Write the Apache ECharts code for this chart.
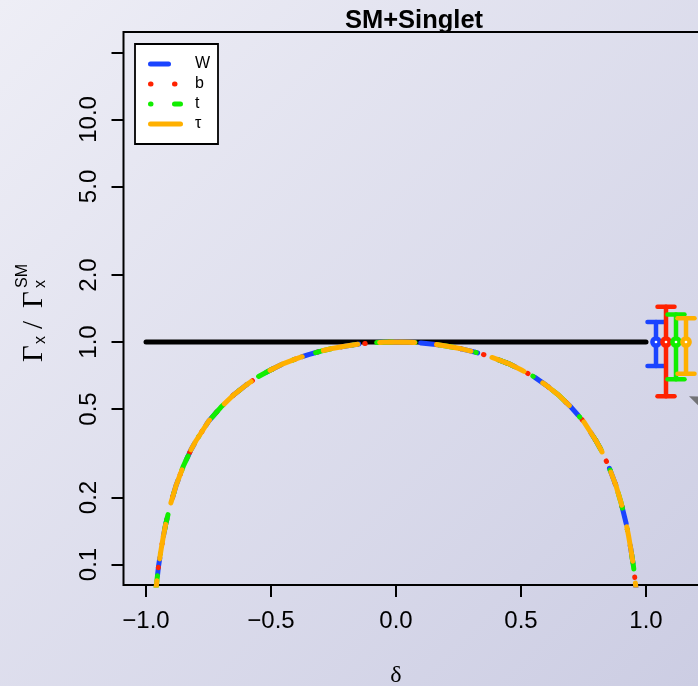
<!DOCTYPE html>
<html><head><meta charset="utf-8">
<script src="https://cdn.jsdelivr.net/npm/echarts@6/dist/echarts.min.js"></script>
<style>html,body{margin:0;padding:0;}#c{width:698px;height:686px;}</style>
</head><body><div id="c"></div>
<script>
// ---- data ----
const delta   = [-0.97,-0.96,-0.95,-0.94,-0.93,-0.92,-0.90,-0.88,-0.85,-0.82,-0.80,-0.75,-0.70,-0.65,-0.60,-0.55,-0.50,-0.45,-0.40,-0.35,-0.30,-0.25,-0.20,-0.15,-0.10,-0.05,0.00,0.05,0.10,0.15,0.20,0.25,0.30,0.35,0.40,0.45,0.50,0.55,0.60,0.65,0.70,0.75,0.80,0.82,0.85,0.88,0.90,0.92,0.93,0.94,0.95,0.96,0.97];
const gammaW  = [0.059,0.078,0.098,0.116,0.135,0.154,0.19,0.226,0.278,0.328,0.36,0.44,0.51,0.578,0.64,0.70,0.75,0.80,0.84,0.878,0.91,0.938,0.96,0.978,0.99,0.998,1.0,0.998,0.99,0.978,0.96,0.938,0.91,0.878,0.84,0.80,0.75,0.70,0.64,0.578,0.51,0.44,0.36,0.328,0.278,0.226,0.19,0.154,0.135,0.116,0.098,0.078,0.059];
const gammaB  = [0.059,0.078,0.098,0.116,0.135,0.154,0.19,0.226,0.278,0.328,0.36,0.44,0.51,0.578,0.64,0.70,0.75,0.80,0.84,0.878,0.91,0.938,0.96,0.978,0.99,0.998,1.0,0.998,0.99,0.978,0.96,0.938,0.91,0.878,0.84,0.80,0.75,0.70,0.64,0.578,0.51,0.44,0.36,0.328,0.278,0.226,0.19,0.154,0.135,0.116,0.098,0.078,0.059];
const gammaT  = [0.059,0.078,0.098,0.116,0.135,0.154,0.19,0.226,0.278,0.328,0.36,0.44,0.51,0.578,0.64,0.70,0.75,0.80,0.84,0.878,0.91,0.938,0.96,0.978,0.99,0.998,1.0,0.998,0.99,0.978,0.96,0.938,0.91,0.878,0.84,0.80,0.75,0.70,0.64,0.578,0.51,0.44,0.36,0.328,0.278,0.226,0.19,0.154,0.135,0.116,0.098,0.078,0.059];
const gammaTau= [0.059,0.078,0.098,0.116,0.135,0.154,0.19,0.226,0.278,0.328,0.36,0.44,0.51,0.578,0.64,0.70,0.75,0.80,0.84,0.878,0.91,0.938,0.96,0.978,0.99,0.998,1.0,0.998,0.99,0.978,0.96,0.938,0.91,0.878,0.84,0.80,0.75,0.70,0.64,0.578,0.51,0.44,0.36,0.328,0.278,0.226,0.19,0.154,0.135,0.116,0.098,0.078,0.059];
const seriesNames = ['W','b','t','\u03C4'];
const refDelta = [-1, 1];
const refValue = [1, 1];
const errDelta  = [1.04, 1.08, 1.12, 1.16];
const errCenter = [1.0, 1.0, 1.0, 1.0];
const errLow    = [0.78, 0.57, 0.68, 0.72];
const errHigh   = [1.23, 1.44, 1.33, 1.28];
const arrowDelta = [1.2016];
const arrowValue = [0.552];
const xTicks = [-1, -0.5, 0, 0.5, 1];
const yTicks = [0.1, 0.2, 0.5, 1, 2, 5, 10, 20];
const yLabels = [0.1, 0.2, 0.5, 1, 2, 5, 10];
const titleText = 'SM+Singlet';

// ---- styles ----
const colors = ['#1a44ff', '#ff2200', '#11ee00', '#ffb000'];
const dashes = [[18, 22], [0.5, 23.5], [0.5, 23.5, 16, 22], [35, 22]];
const LW = 5;
const lg = v => Math.log10(v);
const SANS = '"Liberation Sans", Arial, Helvetica, sans-serif';
const SERIF = '"Liberation Serif", "Times New Roman", serif';

const curveVals = [gammaW, gammaB, gammaT, gammaTau];
const curveSeries = curveVals.map((vals, i) => ({
  name: seriesNames[i], type: 'line', symbol: 'none', z: 3 + i,
  data: delta.map((d, j) => [d, lg(vals[j])]),
  lineStyle: { color: colors[i], width: LW, type: dashes[i], cap: 'round', join: 'round' },
  silent: true, animation: false
}));

const errData = errDelta.map((d, i) => [d, lg(errCenter[i]), lg(errLow[i]), lg(errHigh[i]), i]);

const chart = echarts.init(document.getElementById('c'), null, { renderer: 'canvas' });

// legend drawn as graphic
const legendY = [64, 84, 104, 124];
const legendEls = [{
  type: 'rect', shape: { x: 135, y: 44, width: 83, height: 100 },
  style: { fill: '#fff', stroke: '#000', lineWidth: 1.8 }, z: 100
}];
seriesNames.forEach((n, i) => {
  legendEls.push({ type: 'line', shape: { x1: 150.5, y1: legendY[i], x2: 180.5, y2: legendY[i] },
    style: { stroke: colors[i], lineWidth: LW, lineDash: dashes[i], lineCap: 'round' }, z: 101 });
  legendEls.push({ type: 'text', x: 195, y: legendY[i],
    style: { text: n, font: '16px ' + SANS, fill: '#000', align: 'left', verticalAlign: 'middle' }, z: 101 });
});

const option = {
  animation: false,
  backgroundColor: { type: 'linear', x: 0, y: 0, x2: 1, y2: 1,
    colorStops: [{ offset: 0, color: '#eeeef6' }, { offset: 1, color: '#cccde3' }] },
  grid: { left: 123.5, top: 32, width: 581.5, bottom: 101, show: true, outerBoundsMode: 'none',
    borderColor: '#000', borderWidth: 2, backgroundColor: 'transparent', containLabel: false },
  xAxis: {
    type: 'value', min: -1.09, max: 1.236,
    axisLine: { show: false, onZero: false },
    splitLine: { show: false },
    axisTick: { show: true, customValues: xTicks, length: 12, lineStyle: { color: '#000', width: 2 } },
    axisLabel: { customValues: xTicks, margin: 24, fontSize: 24, fontFamily: SANS, color: '#000',
      formatter: v => (v < 0 ? '\u2212' : '') + Math.abs(v).toFixed(1) }
  },
  yAxis: {
    type: 'value', min: lg(0.1) - 0.092, max: lg(20) + 0.092,
    axisLine: { show: false, onZero: false },
    splitLine: { show: false },
    axisTick: { show: true, customValues: yTicks.map(lg), length: 12, lineStyle: { color: '#000', width: 2 } },
    axisLabel: { customValues: yLabels.map(lg), rotate: 90, margin: 22, fontSize: 24, fontFamily: SANS, color: '#000',
      formatter: v => Math.pow(10, v).toFixed(1) }
  },
  graphic: [
    { type: 'text', x: 414, y: 21, style: { text: titleText, font: 'bold 25.5px ' + SANS, fill: '#000', align: 'center', verticalAlign: 'middle' }, z: 100 },
    { type: 'text', x: 396, y: 676, style: { text: '\u03B4', font: '24px ' + SERIF, fill: '#000', align: 'center', verticalAlign: 'middle' }, z: 100 },
    { type: 'group', x: 34, y: 311, rotation: Math.PI / 2, z: 100, children: [
      { type: 'text', x: -51, y: 0, style: { text: '\u0393', font: '29px ' + SERIF, fill: '#000', align: 'left', verticalAlign: 'middle' } },
      { type: 'text', x: -33, y: 7, style: { text: 'x', font: '16px ' + SANS, fill: '#000', align: 'left', verticalAlign: 'middle' } },
      { type: 'text', x: -14, y: 0, style: { text: '/', font: '29px ' + SERIF, fill: '#000', align: 'center', verticalAlign: 'middle' } },
      { type: 'text', x: 3, y: 0, style: { text: '\u0393', font: '29px ' + SERIF, fill: '#000', align: 'left', verticalAlign: 'middle' } },
      { type: 'text', x: 23, y: -11, style: { text: 'SM', font: '16px ' + SANS, fill: '#000', align: 'left', verticalAlign: 'middle' } },
      { type: 'text', x: 23, y: 7, style: { text: 'x', font: '16px ' + SANS, fill: '#000', align: 'left', verticalAlign: 'middle' } }
    ]},
    { type: 'group', children: legendEls, z: 100 }
  ],
  series: [
    { name: 'SM', type: 'line', symbol: 'none', z: 2, silent: true,
      data: refDelta.map((d, i) => [d, lg(refValue[i])]),
      lineStyle: { color: '#000', width: LW, cap: 'round' } },
    ...curveSeries,
    { name: 'errors', type: 'custom', z: 10, clip: false, silent: true,
      data: errData,
      renderItem: (params, api) => {
        const i = api.value(4);
        const c = api.coord([api.value(0), api.value(1)]);
        const lo = api.coord([api.value(0), api.value(2)]);
        const hi = api.coord([api.value(0), api.value(3)]);
        const st = { stroke: colors[i], lineWidth: 4.5, lineCap: 'round' };
        const hw = 8.5;
        return { type: 'group', children: [
          { type: 'line', shape: { x1: lo[0], y1: lo[1], x2: hi[0], y2: hi[1] }, style: st },
          { type: 'line', shape: { x1: hi[0] - hw, y1: hi[1], x2: hi[0] + hw, y2: hi[1] }, style: st },
          { type: 'line', shape: { x1: lo[0] - hw, y1: lo[1], x2: lo[0] + hw, y2: lo[1] }, style: st },
          { type: 'circle', shape: { cx: c[0], cy: c[1], r: 3.6 }, style: { stroke: colors[i], lineWidth: 4.5, fill: '#fff' } }
        ]};
      }
    },
    { name: 'arrow', type: 'scatter', z: 11, silent: true,
      data: arrowDelta.map((d, i) => [d, lg(arrowValue[i])]),
      symbol: 'triangle', symbolSize: [13, 16], symbolRotate: 67.5,
      itemStyle: { color: '#5a5a5a' } }
  ]
};
chart.setOption(option);
</script></body></html>
